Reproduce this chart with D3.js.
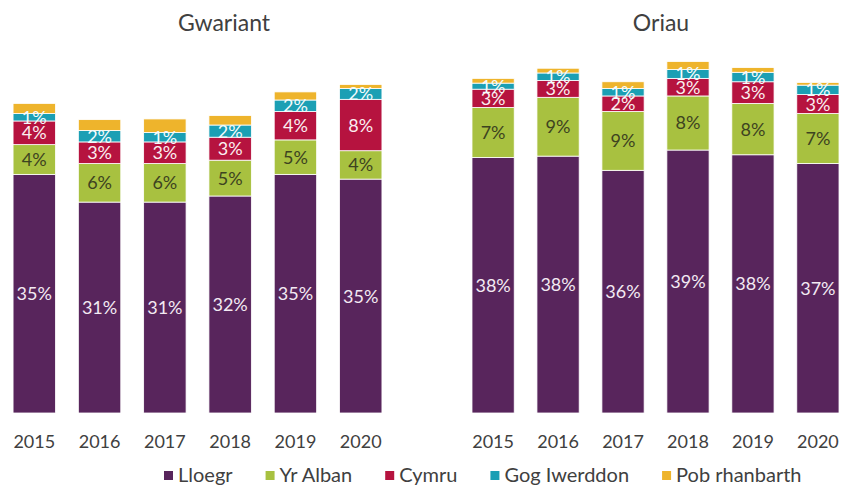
<!DOCTYPE html>
<html>
<head>
<meta charset="utf-8">
<script src="https://cdn.jsdelivr.net/npm/d3@7"></script>
<style>
  body { margin: 0; background: #fff; }
  text { font-family: Lato, "Open Sans", sans-serif; }
</style>
</head>
<body>
<svg width="842" height="486"></svg>
<script>
// categories
var years = ["2015", "2016", "2017", "2018", "2019", "2020"];
var regions = ["Lloegr", "Yr Alban", "Cymru", "Gog Iwerddon", "Pob rhanbarth"];
var colours = ["#58255c", "#a8c140", "#b6133f", "#1b9fb4", "#eeb42c"];
var labelColours = ["#f3eaf3", "#3d4320", "#fbeef0", "#f4fbfc", null];

// Gwariant (spend), % share
var gwariantLloegr = [35.3, 31.2, 31.2, 32.1, 35.3, 34.6];
var gwariantAlban  = [4.4, 5.7, 5.7, 5.3, 5.1, 4.2];
var gwariantCymru  = [3.5, 3.2, 3.2, 3.4, 4.2, 7.6];
var gwariantGog    = [1.1, 1.7, 1.4, 1.8, 1.7, 1.6];
var gwariantPob    = [1.5, 1.6, 2.0, 1.4, 1.2, 0.6];

// Oriau (hours), % share
var oriauLloegr = [37.8, 38.0, 35.9, 38.9, 38.2, 36.9];
var oriauAlban  = [7.4, 8.7, 8.7, 8.0, 7.6, 7.4];
var oriauCymru  = [2.7, 2.5, 2.3, 2.6, 3.2, 2.8];
var oriauGog    = [0.9, 1.1, 1.1, 1.3, 1.4, 1.4];
var oriauPob    = [0.7, 0.7, 1.0, 1.2, 0.7, 0.4];

var svg = d3.select("svg");

// shared vertical scale
var y = d3.scaleLinear().domain([0, 50]).range([413, 75]);

function buildRows(cols) {
    return years.map(function(yr, i) {
        var row = { year: yr };
        regions.forEach(function(r, j) { row[r] = cols[j][i]; });
        return row;
    });
}

function drawPanel(title, titleX, cols, x0, x1) {
    var rows = buildRows(cols);
    var stacked = d3.stack().keys(regions)(rows);

    var x = d3.scaleBand()
        .domain(years)
        .range([x0, x1])
        .paddingInner(0.35)
        .paddingOuter(0.2);

    var g = svg.append("g");

    var layers = g.selectAll(".layer")
        .data(stacked)
        .enter().append("g")
        .attr("fill", function(d, i) { return colours[i]; });

    layers.selectAll("rect")
        .data(function(d) { return d; })
        .enter().append("rect")
        .attr("x", function(d) { return x(d.data.year); })
        .attr("y", function(d) { return y(d[1]); })
        .attr("width", x.bandwidth())
        .attr("height", function(d) { return y(d[0]) - y(d[1]); })
        .attr("stroke", "#fff")
        .attr("stroke-width", 0.8);

    // value labels (not for "Pob rhanbarth")
    stacked.forEach(function(layer, i) {
        if (!labelColours[i]) return;
        g.append("g").selectAll("text")
            .data(layer)
            .enter().append("text")
            .attr("x", function(d) { return x(d.data.year) + x.bandwidth() / 2; })
            .attr("y", function(d) { return (y(d[0]) + y(d[1])) / 2; })
            .attr("dy", "0.36em")
            .attr("text-anchor", "middle")
            .attr("font-size", 18)
            .attr("fill", labelColours[i])
            .text(function(d) { return Math.round(d[1] - d[0]) + "%"; });
    });

    // x axis
    var axis = g.append("g")
        .attr("transform", "translate(0,413)")
        .call(d3.axisBottom(x).tickSize(0).tickPadding(22));
    axis.select(".domain").remove();
    axis.selectAll("text")
        .attr("font-size", 18)
        .attr("font-family", "Lato, 'Open Sans', sans-serif")
        .attr("fill", "#404040");

    svg.append("text")
        .attr("x", titleX)
        .attr("y", 31)
        .attr("text-anchor", "middle")
        .attr("font-size", 23)
        .attr("fill", "#404040")
        .text(title);
}

drawPanel("Gwariant", 224, [gwariantLloegr, gwariantAlban, gwariantCymru, gwariantGog, gwariantPob], 0, 395);
drawPanel("Oriau", 661, [oriauLloegr, oriauAlban, oriauCymru, oriauGog, oriauPob], 459, 852);

// legend
var legend = svg.append("g");
var lx = 164;
regions.forEach(function(r, i) {
    legend.append("rect")
        .attr("x", lx)
        .attr("y", 471)
        .attr("width", 9)
        .attr("height", 9)
        .attr("fill", colours[i]);
    var t = legend.append("text")
        .attr("x", lx + 14)
        .attr("y", 482)
        .attr("font-size", 20)
        .attr("fill", "#404040")
        .text(r);
    lx += 14 + t.node().getComputedTextLength() + 33;
});
</script>
</body>
</html>
